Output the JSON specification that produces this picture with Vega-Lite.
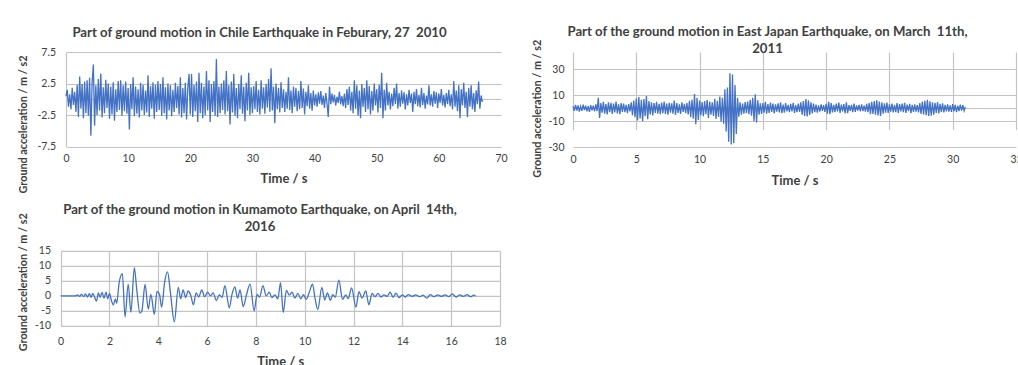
{
"$schema": "https://vega.github.io/schema/vega-lite/v6.json",
"background": "white",
"padding": {"left": 17, "top": 24, "right": 0, "bottom": 0},
"config": {
  "font": "Lato",
  "view": {"stroke": null},
  "axis": {"labelFont": "Lato", "labelFontSize": 10.5, "labelColor": "#404040", "labelFlush": false, "titleFont": "Lato", "titleFontWeight": "bold", "titleFontSize": 13, "titleColor": "#404040", "ticks": false, "gridColor": "#c4c4c4", "gridWidth": 1.2, "domain": false, "labelPadding": 9},
  "title": {"font": "Lato", "fontSize": 13.2, "fontWeight": "bold", "color": "#404040", "anchor": "middle", "frame": "group", "lineHeight": 17},
  "line": {"color": "#4472C4", "strokeWidth": 1.3}
},
"datasets": {
"chile": [
{"t":0,"a":0.5},{"t":0.2,"a":1.5},{"t":0.4,"a":-1.2},{"t":0.6,"a":0.8},{"t":0.8,"a":-1.6},{"t":1,"a":1.8},{"t":1.2,"a":-0.9},{"t":1.4,"a":1.2},{"t":1.6,"a":-2},{"t":1.8,"a":2.3},
{"t":2,"a":-2.8},{"t":2.2,"a":3.6},{"t":2.4,"a":-1.5},{"t":2.6,"a":2.4},{"t":2.8,"a":-3},{"t":3,"a":2.8},{"t":3.2,"a":-2.2},{"t":3.4,"a":3},{"t":3.6,"a":-2.6},{"t":3.8,"a":3.4},
{"t":4,"a":-5.8},{"t":4.2,"a":2.6},{"t":4.4,"a":5.5},{"t":4.6,"a":-4.2},{"t":4.8,"a":2.2},{"t":5,"a":-2.5},{"t":5.2,"a":3.2},{"t":5.4,"a":-1.8},{"t":5.6,"a":4.1},{"t":5.8,"a":-2.9},
{"t":6,"a":1.9},{"t":6.2,"a":-2.2},{"t":6.4,"a":3.1},{"t":6.6,"a":-1.4},{"t":6.8,"a":2.5},{"t":7,"a":-3.1},{"t":7.2,"a":2},{"t":7.4,"a":-2.4},{"t":7.6,"a":2.7},{"t":7.8,"a":-3.4},
{"t":8,"a":1.6},{"t":8.2,"a":-2},{"t":8.4,"a":2.9},{"t":8.6,"a":-1.7},{"t":8.8,"a":3},{"t":9,"a":-2.6},{"t":9.2,"a":2.2},{"t":9.4,"a":-1.9},{"t":9.6,"a":2.8},{"t":9.8,"a":-2.3},
{"t":10,"a":1.8},{"t":10.2,"a":-4.8},{"t":10.4,"a":2.4},{"t":10.6,"a":-1.6},{"t":10.8,"a":3.5},{"t":11,"a":-2.7},{"t":11.2,"a":2},{"t":11.4,"a":-2.3},{"t":11.6,"a":1.6},{"t":11.8,"a":-2.9},
{"t":12,"a":2.6},{"t":12.2,"a":-1.8},{"t":12.4,"a":2.3},{"t":12.6,"a":-2.5},{"t":12.8,"a":1.4},{"t":13,"a":-2.1},{"t":13.2,"a":3.8},{"t":13.4,"a":-2.8},{"t":13.6,"a":2.1},{"t":13.8,"a":-1.5},
{"t":14,"a":2.7},{"t":14.2,"a":-3.1},{"t":14.4,"a":2.3},{"t":14.6,"a":-2},{"t":14.8,"a":2.9},{"t":15,"a":-1.7},{"t":15.2,"a":2.4},{"t":15.4,"a":-2.6},{"t":15.6,"a":3.5},{"t":15.8,"a":-2.2},
{"t":16,"a":1.9},{"t":16.2,"a":-3.2},{"t":16.4,"a":2.5},{"t":16.6,"a":-1.8},{"t":16.8,"a":2.2},{"t":17,"a":-2.7},{"t":17.2,"a":1.5},{"t":17.4,"a":-2},{"t":17.6,"a":2.6},{"t":17.8,"a":-1.4},
{"t":18,"a":2.1},{"t":18.2,"a":-2.4},{"t":18.4,"a":3.5},{"t":18.6,"a":-2.9},{"t":18.8,"a":1.8},{"t":19,"a":-2.2},{"t":19.2,"a":2.6},{"t":19.4,"a":-3.2},{"t":19.6,"a":1.7},{"t":19.8,"a":4},
{"t":20,"a":-2.4},{"t":20.2,"a":4},{"t":20.4,"a":-2.8},{"t":20.6,"a":2.3},{"t":20.8,"a":-1.9},{"t":21,"a":2.8},{"t":21.2,"a":-3.6},{"t":21.4,"a":4.2},{"t":21.6,"a":-2.2},{"t":21.8,"a":2.6},
{"t":22,"a":-3},{"t":22.2,"a":2},{"t":22.4,"a":-2.5},{"t":22.6,"a":4.5},{"t":22.8,"a":-1.8},{"t":23,"a":3},{"t":23.2,"a":-3.6},{"t":23.4,"a":2.4},{"t":23.6,"a":-2},{"t":23.8,"a":2.9},
{"t":24,"a":-2.6},{"t":24.2,"a":6.4},{"t":24.4,"a":-2.8},{"t":24.6,"a":2},{"t":24.8,"a":-2.2},{"t":25,"a":2.5},{"t":25.2,"a":-1.7},{"t":25.4,"a":3},{"t":25.6,"a":-2.4},{"t":25.8,"a":4.5},
{"t":26,"a":-1.9},{"t":26.2,"a":2.2},{"t":26.4,"a":-4},{"t":26.6,"a":2.8},{"t":26.8,"a":-2.1},{"t":27,"a":4},{"t":27.2,"a":-2.6},{"t":27.4,"a":1.8},{"t":27.6,"a":-3},{"t":27.8,"a":2.4},
{"t":28,"a":-1.6},{"t":28.2,"a":3.8},{"t":28.4,"a":-2.3},{"t":28.6,"a":2},{"t":28.8,"a":-3.5},{"t":29,"a":2.6},{"t":29.2,"a":-1.8},{"t":29.4,"a":4.2},{"t":29.6,"a":-2.5},{"t":29.8,"a":1.9},
{"t":30,"a":-2.2},{"t":30.2,"a":2.1},{"t":30.4,"a":-1.6},{"t":30.6,"a":2.9},{"t":30.8,"a":-2},{"t":31,"a":1.5},{"t":31.2,"a":-2.4},{"t":31.4,"a":3},{"t":31.6,"a":-1.5},{"t":31.8,"a":1.9},
{"t":32,"a":-2.3},{"t":32.2,"a":2.4},{"t":32.4,"a":-1.3},{"t":32.6,"a":3.2},{"t":32.8,"a":-2},{"t":33,"a":4.9},{"t":33.2,"a":-1.8},{"t":33.4,"a":2},{"t":33.6,"a":-3.8},{"t":33.8,"a":2.5},
{"t":34,"a":-1.6},{"t":34.2,"a":1.8},{"t":34.4,"a":-2.1},{"t":34.6,"a":2.7},{"t":34.8,"a":-1.4},{"t":35,"a":1.6},{"t":35.2,"a":-2},{"t":35.4,"a":1.2},{"t":35.6,"a":-1.5},{"t":35.8,"a":3.5},
{"t":36,"a":-1.7},{"t":36.2,"a":1.4},{"t":36.4,"a":-2.2},{"t":36.6,"a":2},{"t":36.8,"a":-1.2},{"t":37,"a":1.8},{"t":37.2,"a":-1.9},{"t":37.4,"a":1.3},{"t":37.6,"a":-1.6},{"t":37.8,"a":2.9},
{"t":38,"a":-1.4},{"t":38.2,"a":1.7},{"t":38.4,"a":-2.4},{"t":38.6,"a":1.2},{"t":38.8,"a":-1.1},{"t":39,"a":2.2},{"t":39.2,"a":-1.5},{"t":39.4,"a":1},{"t":39.6,"a":-1.8},{"t":39.8,"a":1.4},
{"t":40,"a":-1},{"t":40.2,"a":0.8},{"t":40.4,"a":-1.2},{"t":40.6,"a":1.1},{"t":40.8,"a":-0.7},{"t":41,"a":1.3},{"t":41.2,"a":-0.9},{"t":41.4,"a":0.6},{"t":41.6,"a":-1.4},{"t":41.8,"a":1},
{"t":42,"a":-0.6},{"t":42.2,"a":-2.8},{"t":42.4,"a":2},{"t":42.6,"a":-0.8},{"t":42.8,"a":0.9},{"t":43,"a":-0.5},{"t":43.2,"a":0.7},{"t":43.4,"a":-1},{"t":43.6,"a":0.4},{"t":43.8,"a":-0.6},
{"t":44,"a":1.2},{"t":44.2,"a":-0.8},{"t":44.4,"a":0.5},{"t":44.6,"a":-1.1},{"t":44.8,"a":0.9},{"t":45,"a":-1.4},{"t":45.2,"a":1.6},{"t":45.4,"a":-0.9},{"t":45.6,"a":2},{"t":45.8,"a":-1.8},
{"t":46,"a":1.2},{"t":46.2,"a":-2.2},{"t":46.4,"a":3},{"t":46.6,"a":-1.5},{"t":46.8,"a":2.2},{"t":47,"a":-2.6},{"t":47.2,"a":1.4},{"t":47.4,"a":-3},{"t":47.6,"a":2.4},{"t":47.8,"a":-1.2},
{"t":48,"a":1.8},{"t":48.2,"a":-2},{"t":48.4,"a":3},{"t":48.6,"a":-1.6},{"t":48.8,"a":2.1},{"t":49,"a":-2.4},{"t":49.2,"a":1.3},{"t":49.4,"a":-1.8},{"t":49.6,"a":2.5},{"t":49.8,"a":-1},
{"t":50,"a":1.6},{"t":50.2,"a":-2.1},{"t":50.4,"a":2.3},{"t":50.6,"a":-1.4},{"t":50.8,"a":4.2},{"t":51,"a":-3},{"t":51.2,"a":1.5},{"t":51.4,"a":-1.8},{"t":51.6,"a":2.6},{"t":51.8,"a":-1},
{"t":52,"a":1.2},{"t":52.2,"a":-1.6},{"t":52.4,"a":0.9},{"t":52.6,"a":-1.1},{"t":52.8,"a":1.8},{"t":53,"a":-0.8},{"t":53.2,"a":2.5},{"t":53.4,"a":-1.5},{"t":53.6,"a":1},{"t":53.8,"a":-1.2},
{"t":54,"a":1.4},{"t":54.2,"a":-0.7},{"t":54.4,"a":1.1},{"t":54.6,"a":-1.6},{"t":54.8,"a":0.8},{"t":55,"a":-1},{"t":55.2,"a":1.5},{"t":55.4,"a":-0.6},{"t":55.6,"a":0.9},{"t":55.8,"a":-2},
{"t":56,"a":1.2},{"t":56.2,"a":-0.8},{"t":56.4,"a":1.6},{"t":56.6,"a":-1.1},{"t":56.8,"a":0.7},{"t":57,"a":-1.3},{"t":57.2,"a":1.8},{"t":57.4,"a":-0.9},{"t":57.6,"a":1},{"t":57.8,"a":-1.5},
{"t":58,"a":0.6},{"t":58.2,"a":-0.8},{"t":58.4,"a":2.2},{"t":58.6,"a":-1},{"t":58.8,"a":0.8},{"t":59,"a":-1.2},{"t":59.2,"a":1.3},{"t":59.4,"a":-0.7},{"t":59.6,"a":1.1},{"t":59.8,"a":-1.4},
{"t":60,"a":0.9},{"t":60.2,"a":-0.6},{"t":60.4,"a":1.6},{"t":60.6,"a":-1},{"t":60.8,"a":0.7},{"t":61,"a":-1.3},{"t":61.2,"a":1},{"t":61.4,"a":-0.8},{"t":61.6,"a":1.5},{"t":61.8,"a":-1.1},
{"t":62,"a":0.8},{"t":62.2,"a":-1.6},{"t":62.4,"a":2.9},{"t":62.6,"a":-1.2},{"t":62.8,"a":1.4},{"t":63,"a":-1.9},{"t":63.2,"a":2.2},{"t":63.4,"a":-3},{"t":63.6,"a":1.6},{"t":63.8,"a":-1},
{"t":64,"a":2.6},{"t":64.2,"a":-1.4},{"t":64.4,"a":1.2},{"t":64.6,"a":-2.8},{"t":64.8,"a":1.8},{"t":65,"a":-1.2},{"t":65.2,"a":2.2},{"t":65.4,"a":-1.6},{"t":65.6,"a":1},{"t":65.8,"a":-2},
{"t":66,"a":1.4},{"t":66.2,"a":-0.8},{"t":66.4,"a":2.8},{"t":66.6,"a":-1.5},{"t":66.8,"a":0.6},{"t":67,"a":-0.4}
],
"japan": [
{"t":0,"a":1.5},{"t":0.1,"a":-2},{"t":0.2,"a":2.5},{"t":0.3,"a":-1.8},{"t":0.4,"a":2.2},{"t":0.5,"a":-2.6},{"t":0.6,"a":1.4},{"t":0.7,"a":-2},{"t":0.8,"a":2.8},{"t":0.9,"a":-1.5},
{"t":1,"a":2},{"t":1.1,"a":-2.4},{"t":1.2,"a":1.6},{"t":1.3,"a":-2.8},{"t":1.4,"a":2.4},{"t":1.5,"a":-1.7},{"t":1.6,"a":2},{"t":1.7,"a":-2.5},{"t":1.8,"a":3},{"t":1.9,"a":-2.2},
{"t":2,"a":8},{"t":2.1,"a":-7.5},{"t":2.2,"a":4},{"t":2.3,"a":-3.5},{"t":2.4,"a":5},{"t":2.5,"a":-4.2},{"t":2.6,"a":3.2},{"t":2.7,"a":-4.8},{"t":2.8,"a":4.5},{"t":2.9,"a":-3},
{"t":3,"a":4.2},{"t":3.1,"a":-4.5},{"t":3.2,"a":3.6},{"t":3.3,"a":-3.2},{"t":3.4,"a":5.2},{"t":3.5,"a":-4},{"t":3.6,"a":3},{"t":3.7,"a":-4.6},{"t":3.8,"a":4},{"t":3.9,"a":-2.8},
{"t":4,"a":3.5},{"t":4.1,"a":-3},{"t":4.2,"a":2.6},{"t":4.3,"a":-3.8},{"t":4.4,"a":3.2},{"t":4.5,"a":-2.4},{"t":4.6,"a":4.5},{"t":4.7,"a":-5.5},{"t":4.8,"a":6},{"t":4.9,"a":-7},
{"t":5,"a":7.5},{"t":5.1,"a":-9.5},{"t":5.2,"a":8.6},{"t":5.3,"a":-8},{"t":5.4,"a":6.5},{"t":5.5,"a":-10},{"t":5.6,"a":7},{"t":5.7,"a":-6.2},{"t":5.8,"a":9.4},{"t":5.9,"a":-8.5},
{"t":6,"a":5.5},{"t":6.1,"a":-4.8},{"t":6.2,"a":4.5},{"t":6.3,"a":-5.6},{"t":6.4,"a":4},{"t":6.5,"a":-3.6},{"t":6.6,"a":5},{"t":6.7,"a":-4.2},{"t":6.8,"a":3.4},{"t":6.9,"a":-4.6},
{"t":7,"a":4.4},{"t":7.1,"a":-3.8},{"t":7.2,"a":5.2},{"t":7.3,"a":-4.4},{"t":7.4,"a":3.6},{"t":7.5,"a":-5},{"t":7.6,"a":4.2},{"t":7.7,"a":-3.4},{"t":7.8,"a":3.8},{"t":7.9,"a":-4.2},
{"t":8,"a":6},{"t":8.1,"a":-5.2},{"t":8.2,"a":4},{"t":8.3,"a":-3.6},{"t":8.4,"a":3},{"t":8.5,"a":-4.4},{"t":8.6,"a":4.6},{"t":8.7,"a":-2.8},{"t":8.8,"a":3.4},{"t":8.9,"a":-3.8},
{"t":9,"a":4},{"t":9.1,"a":-4.8},{"t":9.2,"a":5.8},{"t":9.3,"a":-7},{"t":9.4,"a":6.5},{"t":9.5,"a":-8.2},{"t":9.6,"a":11},{"t":9.7,"a":-12.3},{"t":9.8,"a":8},{"t":9.9,"a":-9},
{"t":10,"a":6},{"t":10.1,"a":-5.5},{"t":10.2,"a":4.8},{"t":10.3,"a":-6.2},{"t":10.4,"a":5.6},{"t":10.5,"a":-4.6},{"t":10.6,"a":6.4},{"t":10.7,"a":-7.6},{"t":10.8,"a":5.2},{"t":10.9,"a":-5},
{"t":11,"a":4.6},{"t":11.1,"a":-6},{"t":11.2,"a":7.2},{"t":11.3,"a":-8.4},{"t":11.4,"a":5.8},{"t":11.5,"a":-6.8},{"t":11.6,"a":9},{"t":11.7,"a":-10.5},{"t":11.8,"a":8},{"t":11.9,"a":-12},
{"t":12,"a":14.6},{"t":12.1,"a":-18},{"t":12.2,"a":16},{"t":12.3,"a":-26},{"t":12.4,"a":27},{"t":12.5,"a":-28},{"t":12.6,"a":26},{"t":12.7,"a":-27},{"t":12.8,"a":18},{"t":12.9,"a":-20},
{"t":13,"a":8},{"t":13.1,"a":-6.5},{"t":13.2,"a":4.5},{"t":13.3,"a":-5},{"t":13.4,"a":3.6},{"t":13.5,"a":-4.2},{"t":13.6,"a":4.8},{"t":13.7,"a":-3.8},{"t":13.8,"a":5.2},{"t":13.9,"a":-4.6},
{"t":14,"a":6.5},{"t":14.1,"a":-5.8},{"t":14.2,"a":8},{"t":14.3,"a":-10},{"t":14.4,"a":10.7},{"t":14.5,"a":-11},{"t":14.6,"a":6.2},{"t":14.7,"a":-5},{"t":14.8,"a":3.8},{"t":14.9,"a":-4.5},
{"t":15,"a":4},{"t":15.1,"a":-3.4},{"t":15.2,"a":5},{"t":15.3,"a":-4.2},{"t":15.4,"a":3.2},{"t":15.5,"a":-3.6},{"t":15.6,"a":4.4},{"t":15.7,"a":-2.8},{"t":15.8,"a":3.6},{"t":15.9,"a":-4},
{"t":16,"a":3},{"t":16.1,"a":-2.6},{"t":16.2,"a":3.8},{"t":16.3,"a":-3.2},{"t":16.4,"a":4.6},{"t":16.5,"a":-3.8},{"t":16.6,"a":2.8},{"t":16.7,"a":-3.4},{"t":16.8,"a":4},{"t":16.9,"a":-2.5},
{"t":17,"a":2.6},{"t":17.1,"a":-3},{"t":17.2,"a":3.4},{"t":17.3,"a":-2.4},{"t":17.4,"a":4.2},{"t":17.5,"a":-3.6},{"t":17.6,"a":2.4},{"t":17.7,"a":-3},{"t":17.8,"a":3.6},{"t":17.9,"a":-2.8},
{"t":18,"a":4.5},{"t":18.1,"a":-5},{"t":18.2,"a":5.6},{"t":18.3,"a":-6},{"t":18.4,"a":7},{"t":18.5,"a":-6.4},{"t":18.6,"a":6.2},{"t":18.7,"a":-5.2},{"t":18.8,"a":4.6},{"t":18.9,"a":-4},
{"t":19,"a":3.6},{"t":19.1,"a":-3},{"t":19.2,"a":2.8},{"t":19.3,"a":-3.4},{"t":19.4,"a":2.2},{"t":19.5,"a":-2.6},{"t":19.6,"a":3},{"t":19.7,"a":-2},{"t":19.8,"a":2.4},{"t":19.9,"a":-2.8},
{"t":20,"a":3.4},{"t":20.1,"a":-4.2},{"t":20.2,"a":5},{"t":20.3,"a":-4.6},{"t":20.4,"a":4},{"t":20.5,"a":-3.2},{"t":20.6,"a":2.6},{"t":20.7,"a":-3},{"t":20.8,"a":3.6},{"t":20.9,"a":-2.4},
{"t":21,"a":4.4},{"t":21.1,"a":-3.6},{"t":21.2,"a":2.8},{"t":21.3,"a":-2.4},{"t":21.4,"a":3.2},{"t":21.5,"a":-4},{"t":21.6,"a":4.6},{"t":21.7,"a":-3.8},{"t":21.8,"a":2.4},{"t":21.9,"a":-2},
{"t":22,"a":2.6},{"t":22.1,"a":-3},{"t":22.2,"a":3.6},{"t":22.3,"a":-2.8},{"t":22.4,"a":2.2},{"t":22.5,"a":-1.8},{"t":22.6,"a":2.6},{"t":22.7,"a":-2.4},{"t":22.8,"a":3},{"t":22.9,"a":-2.2},
{"t":23,"a":2},{"t":23.1,"a":-2.6},{"t":23.2,"a":3.4},{"t":23.3,"a":-3},{"t":23.4,"a":4.2},{"t":23.5,"a":-4.6},{"t":23.6,"a":5},{"t":23.7,"a":-4.4},{"t":23.8,"a":5.6},{"t":23.9,"a":-5},
{"t":24,"a":6.2},{"t":24.1,"a":-5.6},{"t":24.2,"a":5.2},{"t":24.3,"a":-6},{"t":24.4,"a":4.6},{"t":24.5,"a":-4.2},{"t":24.6,"a":3.8},{"t":24.7,"a":-3.4},{"t":24.8,"a":4.4},{"t":24.9,"a":-3.6},
{"t":25,"a":3},{"t":25.1,"a":-2.6},{"t":25.2,"a":3.6},{"t":25.3,"a":-3.2},{"t":25.4,"a":2.6},{"t":25.5,"a":-3},{"t":25.6,"a":4},{"t":25.7,"a":-3.6},{"t":25.8,"a":3.2},{"t":25.9,"a":-2.4},
{"t":26,"a":3.6},{"t":26.1,"a":-3},{"t":26.2,"a":4.2},{"t":26.3,"a":-3.6},{"t":26.4,"a":2.8},{"t":26.5,"a":-2.2},{"t":26.6,"a":3.4},{"t":26.7,"a":-3.8},{"t":26.8,"a":2.6},{"t":26.9,"a":-2.8},
{"t":27,"a":3},{"t":27.1,"a":-2.6},{"t":27.2,"a":2.4},{"t":27.3,"a":-3.2},{"t":27.4,"a":4},{"t":27.5,"a":-4.4},{"t":27.6,"a":5.2},{"t":27.7,"a":-4.8},{"t":27.8,"a":5.8},{"t":27.9,"a":-5.4},
{"t":28,"a":6.4},{"t":28.1,"a":-6},{"t":28.2,"a":5.4},{"t":28.3,"a":-5.8},{"t":28.4,"a":4.6},{"t":28.5,"a":-5},{"t":28.6,"a":4.2},{"t":28.7,"a":-3.6},{"t":28.8,"a":4.8},{"t":28.9,"a":-4},
{"t":29,"a":3.4},{"t":29.1,"a":-2.8},{"t":29.2,"a":3.8},{"t":29.3,"a":-3.2},{"t":29.4,"a":2.6},{"t":29.5,"a":-2.4},{"t":29.6,"a":3},{"t":29.7,"a":-2.6},{"t":29.8,"a":2.2},{"t":29.9,"a":-2.8},
{"t":30,"a":3.2},{"t":30.1,"a":-2.4},{"t":30.2,"a":2.6},{"t":30.3,"a":-3},{"t":30.4,"a":2},{"t":30.5,"a":-2.2},{"t":30.6,"a":2.8},{"t":30.7,"a":-1.8},{"t":30.8,"a":2.4},{"t":30.9,"a":-2},
{"t":31,"a":1}
],
"kumamoto": [
{"t":0,"a":0},{"t":0.6,"a":0},{"t":0.7,"a":0.3},{"t":0.78,"a":-0.2},{"t":0.85,"a":0.5},{"t":0.95,"a":-0.3},{"t":1.02,"a":0.6},{"t":1.1,"a":-0.4},{"t":1.18,"a":0.7},{"t":1.25,"a":-0.5},
{"t":1.32,"a":0.8},{"t":1.4,"a":-0.6},{"t":1.47,"a":-1.8},{"t":1.55,"a":1},{"t":1.62,"a":-0.5},{"t":1.7,"a":1.1},{"t":1.78,"a":-0.8},{"t":1.86,"a":1.2},{"t":1.93,"a":-1},{"t":2,"a":0.8},
{"t":2.08,"a":-1.5},{"t":2.16,"a":-3},{"t":2.24,"a":-1},{"t":2.3,"a":-2.5},{"t":2.4,"a":4.5},{"t":2.53,"a":7.4},{"t":2.64,"a":-7},{"t":2.77,"a":3.9},{"t":2.88,"a":-5.5},{"t":3.02,"a":9.4},
{"t":3.12,"a":2},{"t":3.25,"a":-5.8},{"t":3.33,"a":-5},{"t":3.46,"a":3.8},{"t":3.59,"a":-4.4},{"t":3.7,"a":0.5},{"t":3.84,"a":-6.2},{"t":3.95,"a":1.5},{"t":4.05,"a":0.5},{"t":4.14,"a":-3.8},
{"t":4.26,"a":4.5},{"t":4.38,"a":8},{"t":4.5,"a":1},{"t":4.66,"a":-8.7},{"t":4.82,"a":2.8},{"t":4.92,"a":-1},{"t":5.02,"a":2},{"t":5.12,"a":-0.6},{"t":5.22,"a":1.6},{"t":5.33,"a":0.2},
{"t":5.44,"a":-3},{"t":5.55,"a":1},{"t":5.66,"a":-0.4},{"t":5.78,"a":2},{"t":5.9,"a":-0.3},{"t":6.02,"a":1.2},{"t":6.14,"a":0},{"t":6.25,"a":1},{"t":6.38,"a":-1.6},{"t":6.5,"a":0.3},
{"t":6.62,"a":-0.5},{"t":6.73,"a":3.4},{"t":6.91,"a":-4},{"t":7.02,"a":0.5},{"t":7.14,"a":3},{"t":7.25,"a":-0.8},{"t":7.35,"a":2},{"t":7.48,"a":-3.6},{"t":7.62,"a":0.5},{"t":7.76,"a":3.9},
{"t":7.93,"a":-5},{"t":8.05,"a":0.5},{"t":8.15,"a":-0.5},{"t":8.29,"a":3.4},{"t":8.42,"a":0},{"t":8.55,"a":1.2},{"t":8.65,"a":-0.6},{"t":8.78,"a":0.3},{"t":8.9,"a":-1},{"t":9.01,"a":4.4},
{"t":9.12,"a":-5.6},{"t":9.25,"a":1.8},{"t":9.37,"a":0.2},{"t":9.48,"a":1.2},{"t":9.6,"a":-0.8},{"t":9.72,"a":0.8},{"t":9.84,"a":-1},{"t":9.95,"a":0.4},{"t":10.06,"a":-1.2},{"t":10.18,"a":1},
{"t":10.32,"a":3.9},{"t":10.43,"a":-1.2},{"t":10.54,"a":-4.6},{"t":10.7,"a":2.8},{"t":10.82,"a":-1.4},{"t":10.93,"a":1},{"t":11.05,"a":-1.5},{"t":11.15,"a":0.4},{"t":11.25,"a":-0.5},{"t":11.4,"a":5.2},
{"t":11.55,"a":-1.2},{"t":11.68,"a":0.3},{"t":11.78,"a":-1},{"t":11.92,"a":2.6},{"t":12.1,"a":-3.8},{"t":12.22,"a":1.4},{"t":12.35,"a":-0.8},{"t":12.5,"a":1.6},{"t":12.63,"a":-3},{"t":12.76,"a":0.8},
{"t":12.88,"a":-0.3},{"t":13,"a":0.8},{"t":13.12,"a":-0.4},{"t":13.25,"a":0.3},{"t":13.38,"a":-0.2},{"t":13.5,"a":1.2},{"t":13.62,"a":-0.5},{"t":13.74,"a":0.9},{"t":13.86,"a":-0.6},{"t":14,"a":0.3},
{"t":14.12,"a":-0.4},{"t":14.25,"a":0.4},{"t":14.4,"a":-0.2},{"t":14.55,"a":0.3},{"t":14.7,"a":-0.3},{"t":14.85,"a":0.2},{"t":15,"a":-0.8},{"t":15.15,"a":0.4},{"t":15.3,"a":-0.3},{"t":15.45,"a":0.3},
{"t":15.6,"a":-0.2},{"t":15.75,"a":0.3},{"t":15.9,"a":-0.3},{"t":16.05,"a":0.6},{"t":16.2,"a":-0.4},{"t":16.35,"a":0.3},{"t":16.5,"a":-0.2},{"t":16.65,"a":0.4},{"t":16.8,"a":-0.3},{"t":16.92,"a":0.2},
{"t":17,"a":0}
]
},
"columns": 2,
"spacing": {"row": 9.8, "column": 23},
"concat": [
  {
    "title": {"text": "Part of ground motion in Chile Earthquake in Feburary, 27\u00a0 2010", "dx": -24, "offset": 7.2},
    "width": 435, "height": 94.5,
    "data": {"name": "chile"},
    "mark": {"type": "line"},
    "encoding": {
      "x": {"field": "t", "type": "quantitative", "scale": {"domain": [0, 70], "nice": false},
            "axis": {"values": [0,10,20,30,40,50,60,70], "grid": false, "title": "Time / s", "labelPadding": 7, "titlePadding": 8}},
      "y": {"field": "a", "type": "quantitative", "scale": {"domain": [-7.5, 7.5], "nice": false},
            "axis": {"values": [-7.5,-2.5,0,2.5,7.5], "labelExpr": "datum.value == 0 ? '' : '' + datum.value", "domain": true, "domainColor": "#c4c4c4", "domainWidth": 1.2, "labelPadding": 10.5, "title": "Ground acceleration / m / s2", "titleFontSize": 10.8, "titleY": 72, "titlePadding": 8}}
    }
  },
  {
    "title": {"text": ["Part of the ground motion in East Japan Earthquake, on March\u00a0 11th,", "2011"], "dx": -27, "offset": -16.8},
    "width": 443, "height": 95,
    "data": {"name": "japan"},
    "mark": {"type": "line"},
    "encoding": {
      "x": {"field": "t", "type": "quantitative", "scale": {"domain": [0, 35], "nice": false},
            "axis": {"values": [0,5,10,15,20,25,30,35], "grid": true, "title": "Time / s", "labelPadding": 7, "titlePadding": 10}},
      "y": {"field": "a", "type": "quantitative", "scale": {"domain": [-30, 30], "nice": false, "range": [95, 17.4]},
            "axis": {"values": [-30,-10,0,10,30], "labelExpr": "datum.value == 0 ? '' : '' + datum.value", "title": "Ground acceleration / m / s2", "titleFontSize": 10.8, "titlePadding": 5}}
    }
  },
  {
    "title": {"text": ["Part of the ground motion in Kumamoto Earthquake, on April\u00a0 14th,", "2016"], "dx": -23, "offset": -21.5},
    "width": 434, "height": 75,
    "data": {"name": "kumamoto"},
    "mark": {"type": "line", "interpolate": "monotone"},
    "encoding": {
      "x": {"field": "t", "type": "quantitative", "scale": {"domain": [0, 18], "nice": false, "range": [-5.4, 434]},
            "axis": {"values": [0,2,4,6,8,10,12,14,16,18], "grid": true, "title": "Time / s", "labelPadding": 11, "titlePadding": 8.5}},
      "y": {"field": "a", "type": "quantitative", "scale": {"domain": [-10, 15], "nice": false},
            "axis": {"values": [-10,-5,0,5,10,15], "labelExpr": "'' + datum.value", "labelPadding": 15.5, "title": "Ground acceleration / m / s2", "titleFontSize": 10.8, "titleY": 31, "titlePadding": 6}}
    }
  }
]
}
